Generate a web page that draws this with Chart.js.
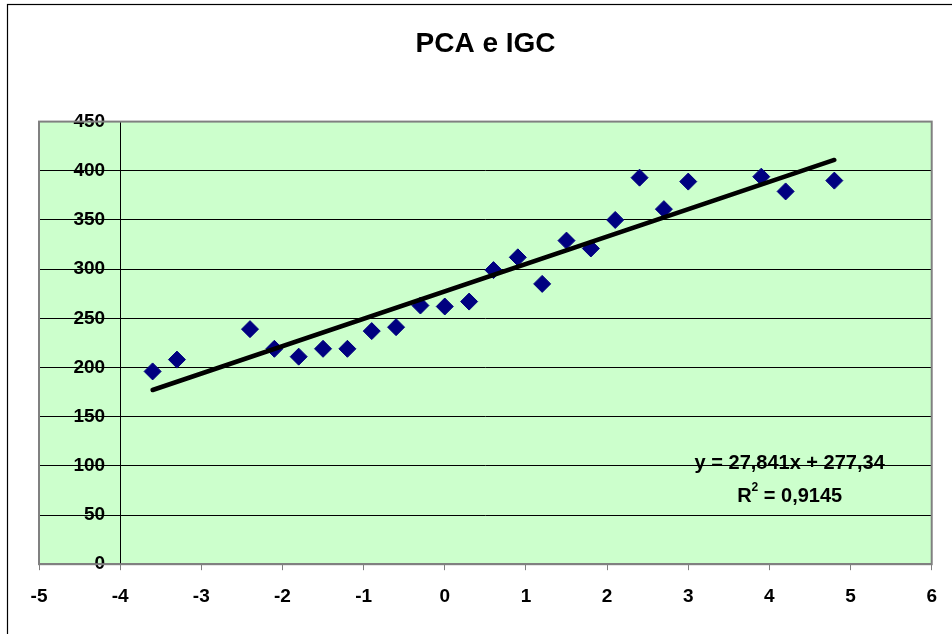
<!DOCTYPE html>
<html>
<head>
<meta charset="utf-8">
<title>PCA e IGC</title>
<script src="https://cdn.jsdelivr.net/npm/chart.js@4.4.1/dist/chart.umd.min.js"></script>
<style>
  html, body { margin: 0; padding: 0; background: #fff; }
  #wrap { width: 952px; height: 634px; }
</style>
</head>
<body>
<div id="wrap"><canvas id="pcaChart" width="952" height="634"></canvas></div>
<script>
// PCA score (x) vs IGC (y)
const pcaValues = [-3.6, -3.3, -2.4, -2.1, -1.8, -1.5, -1.2, -0.9, -0.6, -0.3, 0, 0.3,
                   0.6, 0.9, 1.2, 1.5, 1.8, 2.1, 2.4, 2.7, 3.0, 3.9, 4.2, 4.8];
const igcValues = [196, 208, 239, 219, 211, 219, 219, 237, 241, 263, 262, 267,
                   299, 312, 285, 329, 321, 350, 393, 361, 389, 394, 379, 390];

const trendSlope = 27.841;
const trendIntercept = 277.34;
const equationText = 'y = 27,841x + 277,34';
const r2Text = '0,9145';

const xTicks = [-5, -4, -3, -2, -1, 0, 1, 2, 3, 4, 5, 6];
const yTicks = [0, 50, 100, 150, 200, 250, 300, 350, 400, 450];

const FONT = '"Liberation Sans", Arial, sans-serif';

(function() {
  const points = pcaValues.map((v, i) => ({ x: v, y: igcValues[i] }));
  const xMin = Math.min(...pcaValues);
  const xMax = Math.max(...pcaValues);
  const trend = [xMin, xMax].map(v => ({ x: v, y: trendSlope * v + trendIntercept }));

  // green plot area, grey frame, black outer border
  const plotFrame = {
    id: 'plotFrame',
    beforeDraw(chart) {
      // y axis sits at x = -4; push its labels left of the tick marks
      const yScale = chart.scales.y;
      const gap = yScale.options.grid.tickLength + yScale.options.ticks.padding;
      yScale.getLabelItems().forEach(item => {
        if (!item.shifted) {
          item.options.translation[0] -= gap;
          item.shifted = true;
        }
      });

      const { ctx, chartArea: a } = chart;
      ctx.save();
      ctx.fillStyle = '#CCFFCC';
      ctx.fillRect(a.left, a.top, a.right - a.left, a.bottom - a.top);
      ctx.strokeStyle = '#000';
      ctx.lineWidth = 1.2;
      ctx.strokeRect(7.5, 4.5, 2000, 2000);
      ctx.restore();
    },
    beforeDatasetsDraw(chart) {
      const { ctx, chartArea: a } = chart;
      ctx.save();
      ctx.strokeStyle = '#808080';
      ctx.lineWidth = 2;
      ctx.strokeRect(a.left, a.top, a.right - a.left, a.bottom - a.top);
      ctx.restore();
    }
  };

  // trendline equation + R squared
  const equationPos = { x: 4.25, y: 102 };
  const r2Pos = { x: 4.25, y: 68.5 };
  const equationLabel = {
    id: 'equationLabel',
    afterDatasetsDraw(chart) {
      const { ctx, scales: { x, y } } = chart;
      ctx.save();
      ctx.fillStyle = '#000';
      ctx.textBaseline = 'middle';
      ctx.font = 'bold 20px ' + FONT;
      ctx.textAlign = 'center';
      ctx.fillText(equationText, x.getPixelForValue(equationPos.x), y.getPixelForValue(equationPos.y));

      const rest = ' = ' + r2Text;
      ctx.textAlign = 'left';
      const wR = ctx.measureText('R').width;
      const wRest = ctx.measureText(rest).width;
      ctx.font = 'bold 12px ' + FONT;
      const wSup = ctx.measureText('2').width;
      const total = wR + wSup + wRest;
      const cx = x.getPixelForValue(r2Pos.x);
      const cy = y.getPixelForValue(r2Pos.y);
      let px = cx - total / 2;
      ctx.font = 'bold 20px ' + FONT;
      ctx.fillText('R', px, cy);
      px += wR;
      ctx.font = 'bold 12px ' + FONT;
      ctx.fillText('2', px, cy - 9);
      px += wSup;
      ctx.font = 'bold 20px ' + FONT;
      ctx.fillText(rest, px, cy);
      ctx.restore();
    }
  };

  const ctx = document.getElementById('pcaChart').getContext('2d');
  new Chart(ctx, {
    type: 'scatter',
    data: {
      datasets: [
        {
          label: 'Trend',
          data: trend,
          showLine: true,
          borderColor: '#000',
          borderWidth: 4.5,
          borderCapStyle: 'round',
          pointRadius: 0,
          order: 0
        },
        {
          label: 'IGC',
          data: points,
          pointStyle: 'rectRot',
          pointRadius: 8.5,
          pointBackgroundColor: '#000080',
          pointBorderColor: '#000080',
          pointBorderWidth: 1,
          showLine: false,
          order: 1
        }
      ]
    },
    options: {
      responsive: false,
      animation: false,
      layout: { padding: { top: 10, left: 39, right: 20, bottom: 11 } },
      plugins: {
        legend: { display: false },
        tooltip: { enabled: false },
        title: {
          display: true,
          text: 'PCA e IGC',
          color: '#000',
          font: { family: FONT, size: 28, weight: 'bold' },
          padding: { top: 17, bottom: 61 }
        }
      },
      scales: {
        x: {
          type: 'linear',
          position: 'bottom',
          min: xTicks[0],
          max: xTicks[xTicks.length - 1],
          afterBuildTicks: s => { s.ticks = xTicks.map(v => ({ value: v })); },
          ticks: {
            color: '#000',
            padding: 15,
            maxRotation: 0,
            autoSkip: false,
            font: { family: FONT, size: 19, weight: 'bold' }
          },
          grid: { drawOnChartArea: false, drawTicks: true, tickLength: 6, color: '#808080' },
          border: { display: true, color: '#808080', width: 2 }
        },
        y: {
          type: 'linear',
          position: { x: -4 },
          min: yTicks[0],
          max: yTicks[yTicks.length - 1],
          afterBuildTicks: s => { s.ticks = yTicks.map(v => ({ value: v })); },
          ticks: {
            color: '#000',
            padding: 10,
            font: { family: FONT, size: 19, weight: 'bold' }
          },
          grid: { color: '#000', lineWidth: 1, tickLength: 5 },
          border: { display: true, color: '#000', width: 1 }
        }
      }
    },
    plugins: [plotFrame, equationLabel]
  });
})();
</script>
</body>
</html>
